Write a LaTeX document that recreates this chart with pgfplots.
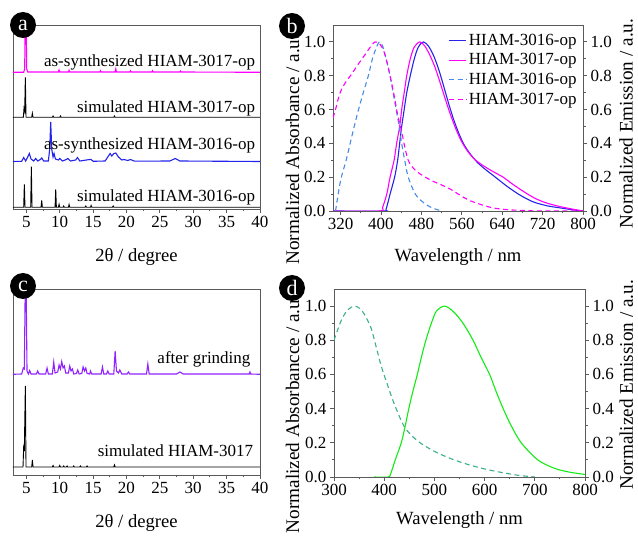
\documentclass[border=0pt]{standalone}
\usepackage{fontspec}
\setmainfont{Liberation Serif}
\usepackage{pgfplots}
\pgfplotsset{compat=1.18}

\definecolor{cBlue}{RGB}{35,35,235}
\definecolor{cMag}{RGB}{255,0,255}
\definecolor{cLBlue}{RGB}{70,140,230}
\definecolor{cPurp}{RGB}{145,35,255}
\definecolor{cGreen}{RGB}{20,235,20}
\definecolor{cTeal}{RGB}{60,175,140}
\definecolor{cFrame}{RGB}{90,90,90}

\pgfplotsset{
  panel/.style={
    scale only axis, anchor=south west,
    axis line style={cFrame, line width=0.9pt},
    tick style={cFrame, line width=0.9pt},
    tick align=outside, major tick length=4pt, minor tick length=2.5pt,
    tick label style={font=\fontsize{17}{20}\selectfont},
    xlabel style={font=\fontsize{18.6}{22}\selectfont},
    ylabel style={font=\fontsize{19.2}{22}\selectfont, inner sep=0pt},
    /pgf/number format/assume math mode=true,
    scaled ticks=false,
    xtick pos=bottom,
    every axis plot/.append style={line width=1.1pt},
  },
  xrd/.style={
    panel, xmin=3, xmax=40, xtick={5,10,...,40}, minor x tick num=1,
    ytick=\empty, xlabel={2θ / degree},
    xlabel style={at={(rel axis cs:0.5,-0.26)}, anchor=center},
  },
  spec/.style={
    panel, ymin=0, ymax=1.1, ytick={0,0.2,...,1.0}, minor y tick num=1,
    minor x tick num=1,
    yticklabel style={/pgf/number format/.cd, fixed, fixed zerofill, precision=1},
    xlabel={Wavelength / nm},
  },
  dsh/.style={dash pattern=on 5pt off 3.5pt},
}

\newcommand{\lab}{\fontsize{17}{20}\selectfont}

\begin{document}
\begin{tikzpicture}
\path[use as bounding box] (0,0) rectangle (638pt,536pt);

% ---------------- (a) ----------------
\begin{axis}[xrd, at={(13pt,327pt)}, width=247pt, height=184pt, ymin=0, ymax=184]
\addplot[black, line width=0.9pt] coordinates {
 (3,1.7)(4.6,1.7)(4.7,24.7)(4.8,1.7)(5.65,1.7)(5.75,42.3)(5.85,1.7)
 (7.2,1.7)(7.3,8.7)(7.4,1.7)(9.3,1.7)(9.4,19.7)(9.5,1.7)(9.8,1.7)(9.9,4.7)(10,1.7)
 (10.5,1.7)(10.6,3)(10.7,1.7)(11.3,1.7)(11.4,4.5)(11.5,1.7)(13.8,1.7)(13.9,3)(14,1.7)
 (14.6,1.7)(14.7,3.5)(14.8,1.7)(17.9,1.7)(18,3)(18.1,1.7)(40,1.7)};
\addplot[cBlue] coordinates {
 (3,47.5)(4.3,47.7)(4.6,51.5)(4.9,48)(5.2,52)(5.45,55.5)(5.7,50)(6.1,48)(6.4,50.5)
 (6.7,48)(7.1,49.5)(7.3,51)(7.6,48)(8.3,48)(8.5,60)(8.65,87)(8.8,60)(9,52)(9.15,55.5)
 (9.35,50)(9.8,49)(10,50.5)(10.4,48)(11,49.5)(11.2,50.5)(11.6,48)(12.4,49)(12.65,51.5)
 (13,48)(14.5,49.5)(14.7,49.5)(15,47.7)(16.8,48)(17.3,53)(17.55,55.5)(17.8,53)(18.1,55.5)
 (18.4,56)(18.8,52)(19.3,49)(19.6,49.5)(20.2,48.5)(20.6,49.5)(21.2,47.8)(26.5,48)
 (27.3,50.5)(28,48)(40,47.5)};
\addplot[black, line width=0.9pt] coordinates {
 (3,91.7)(4.55,91.7)(4.65,100.7)(4.75,98)(4.85,131.7)(4.95,91.7)(5.8,91.7)(5.9,95.7)(6,91.7)
 (8.9,91.7)(9,93)(9.1,91.7)(10,91.7)(10.1,93)(10.2,91.7)(18.1,91.7)(18.2,93)(18.3,91.7)(40,91.7)};
\addplot[cMag] coordinates {
 (3,136.7)(4.6,136.7)(4.75,140)(4.85,200)(4.95,200)(5.05,140)(5.2,137)(9.8,137)(9.9,139)
 (10,137)(11.3,137)(11.4,138.7)(11.5,137)(16,137)(16.1,138.3)(16.2,137)(18.3,137)(18.4,140)
 (18.5,137)(20.5,137)(20.6,138.2)(20.7,137)(23.8,137)(23.9,138.3)(24,137)(28,137)(28.1,138)
 (28.2,137)(40,136.7)};
\node[anchor=east, font=\lab] at (axis cs:39.8,147) {as-synthesized HIAM-3017-op};
\node[anchor=east, font=\lab] at (axis cs:39.8,101) {simulated HIAM-3017-op};
\node[anchor=east, font=\lab] at (axis cs:39.8,64) {as-synthesized HIAM-3016-op};
\node[anchor=east, font=\lab] at (axis cs:39.8,12) {simulated HIAM-3016-op};
\end{axis}

% ---------------- (b) ----------------
\begin{axis}[spec, at={(333pt,325pt)}, width=250pt, height=186pt,
  xmin=305, xmax=800, xtick={320,400,...,800}, ytick pos=left,
  xlabel style={at={(rel axis cs:0.5,-0.25)}, anchor=center},
  ylabel={Normalized Absorbance / a.u.},
  ylabel style={at={(rel axis cs:-0.162,0.33)}, anchor=center},
  legend style={at={(0.995,0.975)}, anchor=north east, draw=none, fill=none,
    font=\lab, row sep=3pt},
  legend cell align=left]
\addplot[cBlue, smooth] coordinates {
 (305,0)(405,0)(410,0.01)(418,0.1)(427,0.2)(433,0.3)(437,0.4)(441,0.5)(446,0.6)(451,0.7)
 (458,0.8)(466,0.9)(474,0.97)(484,1.0)(494,0.975)(504,0.92)(514,0.84)(524,0.74)(534,0.635)
 (544,0.54)(554,0.46)(564,0.395)(576,0.34)(590,0.29)(605,0.25)(620,0.215)(635,0.18)
 (650,0.145)(672,0.1)(690,0.07)(705,0.05)(730,0.03)(751,0.02)(780,0.007)(800,0)};
\addlegendentry{HIAM-3016-op}
\addplot[cMag, smooth] coordinates {
 (305,0)(397,0)(403,0.02)(411.5,0.1)(418,0.2)(426,0.3)(431,0.4)(437,0.5)(441,0.6)(446,0.7)
 (451,0.8)(458,0.9)(466,0.97)(477,1.0)(487,0.975)(497,0.92)(507,0.85)(517,0.76)(527,0.665)
 (537,0.575)(547,0.495)(558,0.42)(570,0.36)(584,0.31)(599,0.275)(615,0.245)(630,0.22)
 (642,0.2)(660,0.16)(685,0.11)(705,0.075)(725,0.05)(745,0.033)(764,0.02)(785,0.008)(800,0)};
\addlegendentry{HIAM-3017-op}
\addplot[cLBlue, dsh, smooth] coordinates {
 (310,0)(320,0.18)(331,0.3)(339,0.4)(347,0.5)(355.6,0.6)(365,0.7)(375,0.8)(383,0.9)
 (390,0.96)(397,1.0)(404,0.97)(410,0.9)(418,0.8)(424,0.7)(430,0.6)(436,0.5)(441,0.4)
 (447,0.3)(454,0.2)(468,0.1)(484,0.05)(500,0.02)(520,0)};
\addlegendentry{HIAM-3016-op}
\addplot[cMag, dsh, smooth] coordinates {
 (305,0.55)(310,0.6)(316,0.67)(322,0.72)(332,0.77)(342,0.81)(353,0.86)(365,0.91)(379,0.97)
 (388,1.0)(397,0.99)(405,0.95)(412,0.88)(418,0.8)(425,0.7)(431,0.6)(436,0.53)(441,0.47)
 (447,0.38)(454,0.3)(465,0.25)(477,0.22)(500,0.18)(523,0.15)(540,0.125)(553,0.1)(570,0.07)
 (586,0.05)(619,0.02)(650,0.008)(690,0.002)(725,0)(800,0)};
\addlegendentry{HIAM-3017-op}
\end{axis}
\begin{axis}[spec, at={(333pt,325pt)}, width=250pt, height=186pt,
  xmin=305, xmax=800, axis x line=none, axis y line*=right,
  ylabel={Normalized Emission / a.u.},
  ylabel style={at={(rel axis cs:1.172,0.47)}, anchor=center}]
\addplot[draw=none] coordinates {(400,0)};
\end{axis}

% ---------------- (c) ----------------
\begin{axis}[xrd, at={(13pt,61pt)}, width=247pt, height=186pt, ymin=0, ymax=186]
\addplot[black, line width=0.9pt] coordinates {
 (3,8)(4.5,8)(4.6,28)(4.7,26)(4.85,89)(4.95,8)(5.8,8)(5.9,15)(6,8)(8.9,8)(9,9.5)(9.1,8)
 (9.9,8)(10,9.5)(10.1,8)(10.5,8)(10.6,9)(10.7,8)(11,8)(11.1,9)(11.2,8)(12,8)(12.1,9)(12.2,8)
 (13,8)(13.1,9)(13.2,8)(14,8)(14.1,9)(14.2,8)(18.1,8)(18.2,10)(18.3,8)(40,8)};
\addplot[cPurp] coordinates {
 (3,100.7)(4.3,101)(4.55,107)(4.7,106)(4.85,200)(4.95,200)(5.1,104)(5.3,101)(5.5,104.5)
 (5.7,101)(6.5,101)(6.7,104)(6.9,101)(7.9,101)(8.1,107)(8.3,101)(8.9,101)(9.1,113)(9.3,102)
 (9.7,103)(9.9,110)(10.1,106)(10.3,113.5)(10.5,107)(10.7,109)(10.9,102)(11.3,102)(11.5,109)
 (11.7,104)(11.9,106)(12.1,101)(12.5,101.5)(12.7,105)(12.9,101)(13.3,101.5)(13.5,108)
 (13.7,104)(13.9,107)(14.1,101.5)(14.5,101)(14.6,104)(14.8,101)(16.2,101)(16.4,108)
 (16.6,101)(17,101)(17.2,104)(17.4,101)(18.1,101)(18.3,124)(18.5,104)(18.8,102)(19,105)
 (19.3,101)(20.1,101)(20.3,103)(20.5,101)(23,101)(23.2,111)(23.4,101)(27.5,101)(28,103)
 (28.5,101)(38.4,101)(38.5,103)(38.6,101)(40,100.7)};
\node[anchor=east, font=\lab] at (axis cs:39.1,116) {after grinding};
\node[anchor=east, font=\lab] at (axis cs:39.5,24) {simulated HIAM-3017};
\end{axis}

% ---------------- (d) ----------------
\begin{axis}[spec, at={(334pt,59pt)}, width=251pt, height=188pt,
  xmin=300, xmax=800, xtick={300,400,...,800}, ytick pos=left,
  xlabel style={at={(rel axis cs:0.5,-0.23)}, anchor=center},
  ylabel={Normalized Absorbancce / a.u.},
  ylabel style={at={(rel axis cs:-0.165,0.335)}, anchor=center}]
\addplot[cTeal, dsh, smooth] coordinates {
 (300,0.8)(315,0.92)(328,0.98)(341,1.0)(352,0.985)(361,0.95)(374,0.87)(385,0.75)(394,0.65)
 (407.6,0.53)(421,0.42)(441,0.29)(467,0.21)(500,0.15)(534,0.106)(567,0.073)(600,0.047)
 (633,0.027)(667,0.01)(700,0)};
\addplot[cGreen, smooth] coordinates {
 (380,0)(408,0)(413,0.02)(422,0.1)(434,0.2)(442,0.3)(449,0.4)(457,0.5)(466,0.6)(474,0.7)
 (483,0.8)(494,0.9)(504,0.97)(520,1.0)(537,0.97)(557,0.9)(577,0.8)(593,0.7)(610,0.6)
 (623,0.5)(637,0.4)(653,0.3)(673,0.2)(706,0.1)(740,0.05)(770,0.028)(800,0.015)};
\end{axis}
\begin{axis}[spec, at={(334pt,59pt)}, width=251pt, height=188pt,
  xmin=300, xmax=800, axis x line=none, axis y line*=right,
  ylabel={Normalized Emission / a.u.},
  ylabel style={at={(rel axis cs:1.165,0.49)}, anchor=center}]
\addplot[draw=none] coordinates {(400,0)};
\end{axis}

% panel letters
\foreach \x/\y/\t in {23/511/a, 292/510/b, 23/250/c, 292/248/d}
  \node[circle, fill=black, text=white, inner sep=0pt, minimum size=26pt,
        font=\fontsize{22}{22}\selectfont] at (\x pt,\y pt) {\t};
\end{tikzpicture}
\end{document}
